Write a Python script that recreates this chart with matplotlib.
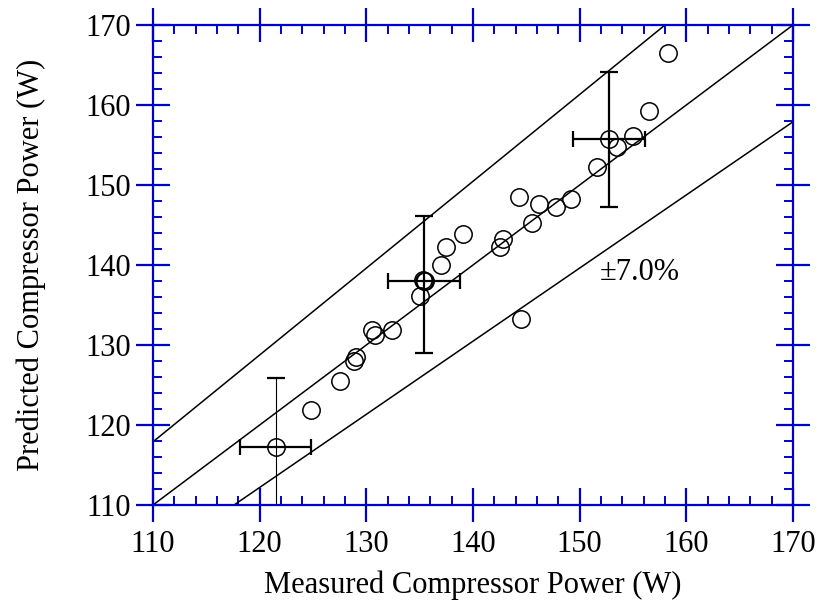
import matplotlib
matplotlib.use("Agg")
import matplotlib.pyplot as plt
from matplotlib.ticker import MultipleLocator

# ---- data ----
measured = [124.8, 127.5, 128.8, 129.0, 130.5, 130.8, 132.4, 135.0, 135.3, 135.5,
            137.0, 137.5, 139.1, 142.5, 142.8, 144.3, 144.5, 145.5, 146.2, 147.8,
            149.2, 151.6, 153.5, 155.0, 156.5, 158.3]
predicted = [121.9, 125.5, 128.0, 128.5, 131.9, 131.3, 131.9, 136.1, 138.1, 138.0,
             140.0, 142.2, 143.9, 142.2, 143.2, 148.5, 133.2, 145.2, 147.6, 147.2,
             148.2, 152.2, 154.8, 156.1, 159.2, 166.5]

# points with uncertainty bars
err_x = [121.5, 135.4, 152.75]
err_y = [117.2, 138.05, 155.8]
err_xerr = [3.35, 3.4, 3.35]
err_yerr_low = [9.0, 9.0, 8.6]
err_yerr_high = [8.7, 8.1, 8.3]

# reference lines (end points)
line_upper_x = [110.0, 158.0]
line_upper_y = [117.9, 170.0]
line_mid_x = [110.0, 170.0]
line_mid_y = [110.0, 170.0]
line_lower_x = [117.6, 170.0]
line_lower_y = [110.0, 157.9]

band_label = "±7.0%"
xlabel = "Measured Compressor Power (W)"
ylabel = "Predicted Compressor Power (W)"

# ---- figure ----
plt.rcParams['font.family'] = ['Liberation Serif', 'DejaVu Serif']
blue = '#0000cc'

fig = plt.figure(figsize=(8.2, 6.05), dpi=100)
ax = fig.add_axes([153 / 820, 1 - 505 / 605, 640 / 820, 480 / 605])

lw = 1.1
ax.plot(line_upper_x, line_upper_y, color='black', lw=lw)
ax.plot(line_mid_x, line_mid_y, color='black', lw=lw)
ax.plot(line_lower_x, line_lower_y, color='black', lw=lw)

# horizontal error bars
ax.errorbar(err_x, err_y, xerr=err_xerr, fmt='none', ecolor='black',
            elinewidth=1.6, capsize=6, capthick=1.6)
# vertical error bars: first one thin, others thick
ax.errorbar(err_x[:1], err_y[:1], yerr=[err_yerr_low[:1], err_yerr_high[:1]],
            fmt='none', ecolor='black', elinewidth=0.8, capsize=6.5, capthick=1.6)
ax.errorbar(err_x[1:], err_y[1:], yerr=[err_yerr_low[1:], err_yerr_high[1:]],
            fmt='none', ecolor='black', elinewidth=1.6, capsize=6.5, capthick=1.6)

ax.plot(measured, predicted, 'o', mfc='none', mec='black', ms=12.5, mew=1.1)
ax.plot(err_x, err_y, 'o', mfc='none', mec='black', ms=12.5, mew=1.1)

ax.text(155.6, 139.1, band_label, fontsize=22, ha='center', va='center')

ax.set_xlim(110, 170)
ax.set_ylim(110, 170)
ax.xaxis.set_major_locator(MultipleLocator(10))
ax.yaxis.set_major_locator(MultipleLocator(10))
ax.xaxis.set_minor_locator(MultipleLocator(2))
ax.yaxis.set_minor_locator(MultipleLocator(2))

for s in ax.spines.values():
    s.set_color(blue)
    s.set_linewidth(1.6)

ax.tick_params(which='major', direction='inout', length=24, width=1.6, color=blue,
               top=True, right=True, labelsize=22, pad=4)
ax.tick_params(which='minor', direction='in', length=6.8, width=1.4, color=blue,
               top=True, right=True)
ax.tick_params(axis='x', which='major', pad=6)

ax.set_xlabel(xlabel, fontsize=22, labelpad=8)
ax.set_ylabel(ylabel, fontsize=22, labelpad=28)

fig.savefig('out.png', dpi=100)
